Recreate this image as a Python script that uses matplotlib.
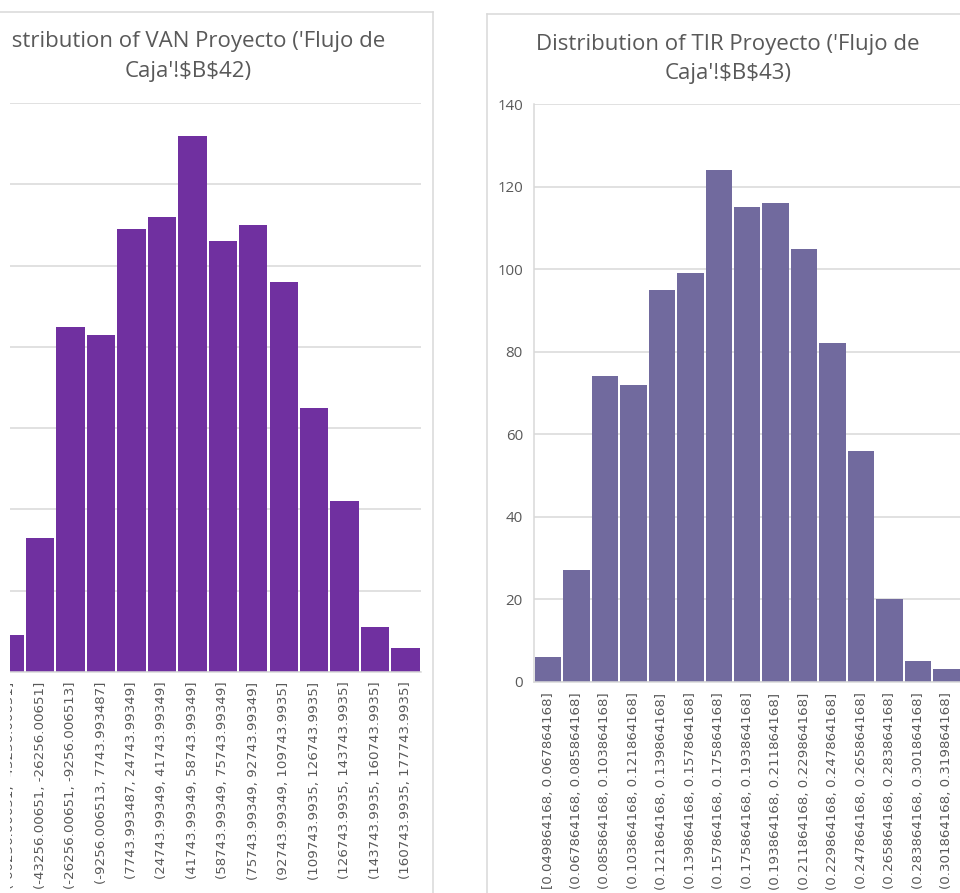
import matplotlib
matplotlib.use('Agg')
import matplotlib.pyplot as plt
from matplotlib.lines import Line2D
from matplotlib.patches import Rectangle

# histogram bins and counts (1000 iterations each)
van_bins = ['[-77256.00651, -60256.00651]', '(-60256.00651, -43256.00651]',
            '(-43256.00651, -26256.00651]', '(-26256.00651, -9256.006513]',
            '(-9256.006513, 7743.993487]', '(7743.993487, 24743.99349]',
            '(24743.99349, 41743.99349]', '(41743.99349, 58743.99349]',
            '(58743.99349, 75743.99349]', '(75743.99349, 92743.99349]',
            '(92743.99349, 109743.9935]', '(109743.9935, 126743.9935]',
            '(126743.9935, 143743.9935]', '(143743.9935, 160743.9935]',
            '(160743.9935, 177743.9935]']
van_counts = [1, 9, 33, 85, 83, 109, 112, 132, 106, 110, 96, 65, 42, 11, 6]

tir_bins = ['[0.049864168, 0.067864168]', '(0.067864168, 0.085864168]',
            '(0.085864168, 0.103864168]', '(0.103864168, 0.121864168]',
            '(0.121864168, 0.139864168]', '(0.139864168, 0.157864168]',
            '(0.157864168, 0.175864168]', '(0.175864168, 0.193864168]',
            '(0.193864168, 0.211864168]', '(0.211864168, 0.229864168]',
            '(0.229864168, 0.247864168]', '(0.247864168, 0.265864168]',
            '(0.265864168, 0.283864168]', '(0.283864168, 0.301864168]',
            '(0.301864168, 0.319864168]']
tir_counts = [6, 27, 74, 72, 95, 99, 124, 115, 116, 105, 82, 56, 20, 5, 3]

y_ticks = [0, 20, 40, 60, 80, 100, 120, 140]

W, H = 960, 893
GRID = '#d9d9d9'
TEXT = '#595959'

fig = plt.figure(figsize=(W / 100, H / 100), dpi=100)
fig.patch.set_facecolor('white')


def px_axes(x0, x1, y_top, y_bot):
    return fig.add_axes([x0 / W, (H - y_bot) / H, (x1 - x0) / W, (y_bot - y_top) / H])


def histogram(ax, labels, counts, color, label_pad):
    pos = range(len(counts))
    ax.bar(pos, counts, width=0.93, color=color, zorder=2)
    ax.set_xlim(-0.5, len(counts) - 0.5)
    ax.set_ylim(0, 140)
    ax.set_yticks(y_ticks)
    ax.set_xticks(list(pos))
    ax.set_xticklabels(labels, rotation=90, va='top', ha='center',
                       family='DejaVu Sans', fontsize=9.6, color=TEXT)
    for t in ax.get_yticklabels():
        t.set_family('Open Sans')
        t.set_fontsize(10.8)
        t.set_color(TEXT)
    ax.grid(axis='y', color=GRID, linewidth=1.1, zorder=0)
    ax.set_axisbelow(True)
    for s in ['top', 'right']:
        ax.spines[s].set_visible(False)
    for s in ['left', 'bottom']:
        ax.spines[s].set_color(GRID)
        ax.spines[s].set_linewidth(1.1)
    ax.tick_params(length=0)
    ax.tick_params(axis='x', pad=label_pad)
    ax.tick_params(axis='y', pad=7.8)
    ax.set_facecolor('none')


ax_van = px_axes(-36, 420.75, 103, 672)
histogram(ax_van, van_bins, van_counts, '#7030a0', 7.0)
ax_van.tick_params(axis='y', labelleft=False)

ax_tir = px_axes(533.8, 960.7, 104.3, 681.5)
histogram(ax_tir, tir_bins, tir_counts, '#716a9e', 8.0)

# titles, two lines each
title_kw = dict(ha='center', va='baseline', fontsize=16, color=TEXT,
                family='Open Sans', parse_math=False)
fig.text(188 / W, 1 - 47 / H, "Distribution of VAN Proyecto ('Flujo de", **title_kw)
fig.text(188 / W, 1 - 77 / H, "Caja'!$B$42)", **title_kw)
fig.text(728 / W, 1 - 50 / H, "Distribution of TIR Proyecto ('Flujo de", **title_kw)
fig.text(728 / W, 1 - 79 / H, "Caja'!$B$43)", **title_kw)


def px_line(xs, ys):
    fig.add_artist(Line2D([x / W for x in xs], [1 - y / H for y in ys],
                          color=GRID, linewidth=1.1, transform=fig.transFigure, zorder=6))


# chart borders
px_line([0, 432.7], [12, 12])
px_line([432.7, 432.7], [12, H])
px_line([487, W], [14, 14])
px_line([487, 487], [14, H])

# left edge of the VAN chart is cut off
fig.add_artist(Rectangle((0, 0), 10 / W, 1, transform=fig.transFigure,
                         facecolor='white', edgecolor='none', zorder=5))

fig.savefig('out.png', dpi=100)
